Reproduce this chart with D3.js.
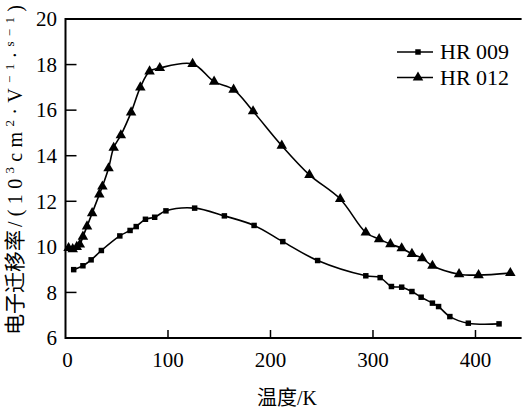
<!DOCTYPE html>
<html>
<head>
<meta charset="utf-8">
<script src="https://cdn.jsdelivr.net/npm/d3@7"></script>
<style>
    body { margin: 0; background: #fff; }
    svg { display: block; }
    .frame { stroke: #000; stroke-width: 2; fill: none; }
    .tick-line { stroke: #000; stroke-width: 1.5; }
    .curve { stroke: #000; stroke-width: 1.6; fill: none; }
</style>
</head>
<body>
<div class="container"></div>
<script>
const WIDTH = 522,
    HEIGHT = 411,
    LEFT = 65.5,
    RIGHT = 521.6,
    TOP = 19,
    BOTTOM = 338,
    SERIF = "'Liberation Serif', 'DejaVu Serif', 'Noto Sans CJK SC'";

// temperature (K) and mobility (10^3 cm^2/(V s))
var t009 = [8, 17, 25, 35, 53, 63, 69, 78, 87, 98, 126, 155, 184, 212, 246, 293, 307, 318, 328, 338, 347, 358, 364, 375, 393, 423];
var v009 = [9.0, 9.17, 9.43, 9.84, 10.48, 10.72, 10.89, 11.21, 11.3, 11.58, 11.7, 11.36, 10.94, 10.23, 9.4, 8.73, 8.65, 8.26, 8.23, 8.04, 7.79, 7.53, 7.38, 6.94, 6.65, 6.62];

var t012 = [3, 7, 11, 14, 17, 21, 26, 33, 36, 42, 47, 54, 64, 73, 82, 92, 124, 145, 164, 183, 211, 238, 268, 293, 306, 317, 328, 338, 348, 358, 384, 403, 434];
var v012 = [9.95, 9.9, 10.0, 10.1, 10.45, 10.9, 11.48, 12.3, 12.65, 13.45, 14.35, 14.9, 15.9, 17.0, 17.7, 17.85, 18.03, 17.25, 16.9, 15.95, 14.44, 13.16, 12.1, 10.63, 10.34, 10.12, 9.94, 9.69, 9.5, 9.17, 8.8, 8.76, 8.85];

var xTicks = [0, 100, 200, 300, 400];
var yTicks = [6, 8, 10, 12, 14, 16, 18, 20];
var seriesNames = ['HR 009', 'HR 012'];

var zip = (ts, vs) => ts.map((t, i) => ({ t: t, v: vs[i] }));
var translate = (a, b) => 'translate(' + a + ',' + b + ')';

var svg = d3.select('.container').append('svg')
    .attr('width', WIDTH)
    .attr('height', HEIGHT)
    .style('font-family', SERIF);

var x = d3.scaleLinear().domain([0, 445]).range([LEFT, RIGHT]);
var y = d3.scaleLinear().domain([6, 20]).range([BOTTOM, TOP]);

// frame: left, top and bottom only
svg.append('path')
    .classed('frame', true)
    .attr('d', 'M' + RIGHT + ',' + TOP + 'H' + LEFT + 'V' + BOTTOM + 'H' + RIGHT);

// inward ticks
svg.selectAll('.xt').data(xTicks.slice(1)).enter().append('line')
    .classed('tick-line', true)
    .attr('x1', d => x(d)).attr('x2', d => x(d))
    .attr('y1', BOTTOM).attr('y2', BOTTOM - 8);

svg.selectAll('.yt').data(yTicks.slice(1, -1)).enter().append('line')
    .classed('tick-line', true)
    .attr('x1', LEFT).attr('x2', LEFT + 11)
    .attr('y1', d => y(d)).attr('y2', d => y(d));

svg.selectAll('.xl').data(xTicks).enter().append('text')
    .attr('x', d => x(d) + (d === 0 ? 2 : 0))
    .attr('y', 367)
    .attr('text-anchor', 'middle')
    .attr('font-size', 21)
    .text(d => d);

svg.selectAll('.yl').data(yTicks).enter().append('text')
    .attr('x', 57)
    .attr('y', d => y(d))
    .attr('dy', '0.35em')
    .attr('text-anchor', 'end')
    .attr('font-size', 21)
    .text(d => d);

svg.append('text')
    .attr('x', 287)
    .attr('y', 405)
    .attr('text-anchor', 'middle')
    .attr('font-size', 20)
    .text('温度/K');

// y title: Chinese part, then the spaced-out unit
var yTitle = svg.append('g').attr('transform', translate(22, 335) + ' rotate(-90)');
yTitle.append('text')
    .attr('x', 0)
    .attr('font-size', 21)
    .text('电子迁移率');

var unit = yTitle.append('text')
    .attr('x', 108)
    .attr('font-size', 20)
    .attr('textLength', 222)
    .attr('lengthAdjust', 'spacing');
[['/(10', 0], ['3', 1], ['cm', 0], ['2', 1], ['·V', 0], ['−1', 1], ['·', 0], ['s', 1], ['−1', 1], [')', 0]]
    .forEach((p, i, arr) => {
        var prevSup = i > 0 && arr[i - 1][1];
        var dy = p[1] ? (prevSup ? 0 : -8) : (prevSup ? 8 : 0);
        unit.append('tspan')
            .attr('dy', dy)
            .attr('font-size', p[1] ? 13 : 20)
            .text(p[0]);
    });

var line = d3.line()
    .x(d => x(d.t))
    .y(d => y(d.v))
    .curve(d3.curveCatmullRom.alpha(0.5));

var d009 = zip(t009, v009), d012 = zip(t012, v012);

svg.append('path').classed('curve', true).attr('d', line(d009));
svg.append('path').classed('curve', true).attr('d', line(d012));

var square = d3.symbol().type(d3.symbolSquare).size(30);
var triangle = d3.symbol().type(d3.symbolTriangle).size(48);

svg.selectAll('.sq').data(d009).enter().append('path')
    .attr('transform', d => translate(x(d.t), y(d.v)))
    .attr('d', square);

svg.selectAll('.tr').data(d012).enter().append('path')
    .attr('transform', d => translate(x(d.t), y(d.v)))
    .attr('d', triangle);

// legend
var legend = svg.append('g');
[52, 77.5].forEach((ly, i) => {
    legend.append('line')
        .attr('x1', 397).attr('x2', 433)
        .attr('y1', ly).attr('y2', ly)
        .attr('stroke', '#000').attr('stroke-width', 1.6);
    legend.append('path')
        .attr('transform', translate(418, ly))
        .attr('d', i ? triangle : square);
    legend.append('text')
        .attr('x', 440).attr('y', ly + 7)
        .attr('font-size', 22)
        .text(seriesNames[i]);
});
</script>
</body>
</html>
